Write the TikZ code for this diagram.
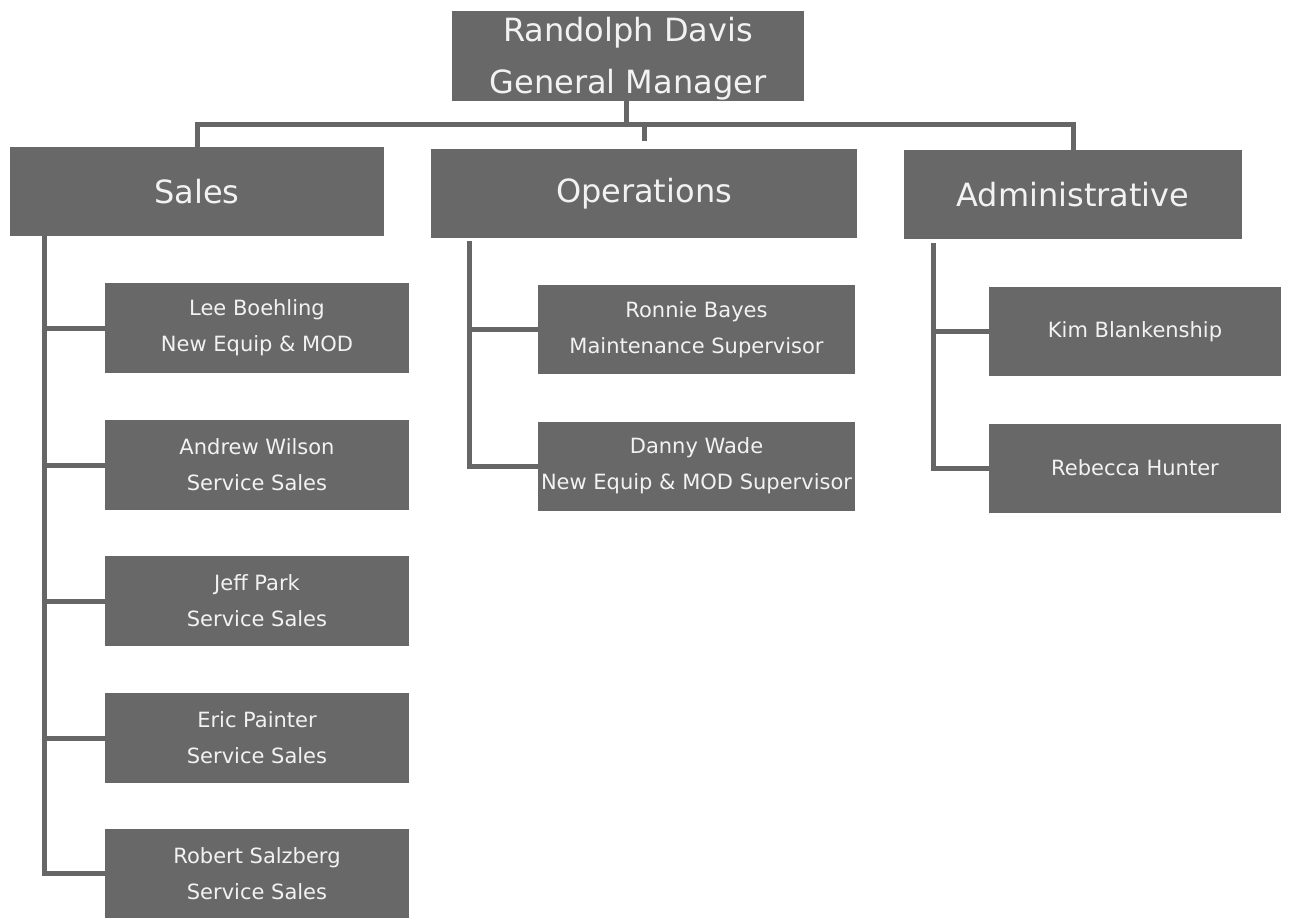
\documentclass[tikz,border=0pt]{standalone}
\usepackage{fontspec}
\setmainfont{DejaVu Sans}
\usetikzlibrary{calc}
\definecolor{boxgray}{HTML}{686868}
\definecolor{txtgray}{HTML}{F2F2F2}
\definecolor{linegray}{HTML}{666666}
\begin{document}
\begin{tikzpicture}[x=1pt,y=-1pt,
  box/.style={fill=boxgray, draw=none, text=txtgray, align=center, inner sep=0pt},
  bigbox/.style={box, font=\fontsize{32}{52}\selectfont},
  smallbox/.style={box, font=\fontsize{21}{36}\selectfont},
  link/.style={draw=linegray, line width=5pt}]
\useasboundingbox (0,0) rectangle (1291,918);
% top
\node[bigbox, minimum width=352pt, minimum height=90pt] (top) at (628,56) {\rule{0pt}{30.5pt}Randolph Davis\\General Manager};
% departments
\node[bigbox, minimum width=374pt, minimum height=89pt] (sales) at (197,191.5) {Sales};
\node[bigbox, minimum width=426pt, minimum height=89pt] (ops) at (644,193.5) {Operations};
\node[bigbox, minimum width=338pt, minimum height=89pt] (admin) at (1073,194.5) {Administrative};
% sales staff
\node[smallbox, minimum width=304pt, minimum height=90pt] (s1) at (257,328) {Lee Boehling\\New Equip \& MOD};
\node[smallbox, minimum width=304pt, minimum height=90pt] (s2) at (257,465) {Andrew Wilson\\Service Sales};
\node[smallbox, minimum width=304pt, minimum height=90pt] (s3) at (257,601) {Jeff Park\\Service Sales};
\node[smallbox, minimum width=304pt, minimum height=90pt] (s4) at (257,738) {Eric Painter\\Service Sales};
\node[smallbox, minimum width=304pt, minimum height=90pt] (s5) at (257,873.5) {Robert Salzberg\\Service Sales};
% operations staff
\node[smallbox, minimum width=317pt, minimum height=89pt] (o1) at (696.5,329.5) {Ronnie Bayes\\Maintenance Supervisor};
\node[smallbox, minimum width=317pt, minimum height=89pt] (o2) at (696.5,466) {Danny Wade\\New Equip \& MOD Supervisor};
% admin staff
\node[smallbox, minimum width=292pt, minimum height=89pt] (a1) at (1135,331.5) {Kim Blankenship};
\node[smallbox, minimum width=292pt, minimum height=89pt] (a2) at (1135,468) {Rebecca Hunter};
% top connectors
\coordinate (j) at ($(top.south)+(-2,23)$);
\draw[link] (top.south -| j) -- (j);
\draw[link] (sales.north) -- (sales.north |- j) -- (admin.north |- j) -- (admin.north);
\draw[link, shorten <=8pt] (ops.north) -- (ops.north |- j);
% sales spine
\coordinate (ssp) at ($(sales.south west)+(35,0)$);
\draw[link] (ssp) |- (s5.west);
\foreach \n in {s1,s2,s3,s4} \draw[link] (\n.west) -- (\n.west -| ssp);
% ops spine
\coordinate (osp) at ($(ops.south west)+(39,3)$);
\draw[link] (osp) |- (o2.west);
\draw[link] (o1.west) -- (o1.west -| osp);
% admin spine
\coordinate (asp) at ($(admin.south west)+(30,4)$);
\draw[link] (asp) |- (a2.west);
\draw[link] (a1.west) -- (a1.west -| asp);
\end{tikzpicture}
\end{document}
